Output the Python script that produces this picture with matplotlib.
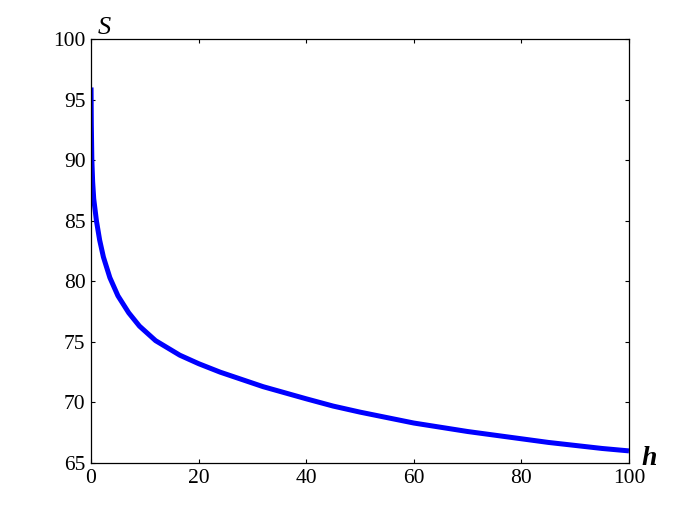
import numpy as np
import matplotlib
matplotlib.use("Agg")
import matplotlib.pyplot as plt

# values
h = [0, 0.05, 0.15, 0.3, 0.5, 1.0, 1.6, 2.3, 3.5, 5, 7, 9, 12, 16.5, 20, 24,
     28, 32, 36, 40, 45, 50, 55, 60, 65, 70, 75, 80, 85, 90, 95, 100]
S = [96.0, 93.0, 90.0, 88.2, 86.8, 85.0, 83.4, 82.0, 80.3, 78.8, 77.4, 76.3, 75.1,
     73.9, 73.2, 72.5, 71.9, 71.3, 70.8, 70.3, 69.7, 69.2, 68.75, 68.3, 67.95,
     67.6, 67.3, 67.0, 66.7, 66.45, 66.2, 66.0]

xticks = [0, 20, 40, 60, 80, 100]
yticks = [65, 70, 75, 80, 85, 90, 95, 100]

plt.rcParams['font.family'] = ['Liberation Serif', 'DejaVu Serif']

fig = plt.figure(figsize=(6.95, 5.2), dpi=100)
ax = fig.add_axes([0.131, 0.1096, 0.774, 0.8154])

ax.plot(h, S, color='#0000ff', linewidth=3.6, solid_capstyle='butt',
        solid_joinstyle='round')

ax.set_xlim(0, 100)
ax.set_ylim(65, 100)
ax.set_xticks(xticks)
ax.set_yticks(yticks)
ax.tick_params(direction='in', length=3, width=0.8, top=True, right=True,
               labelsize=15.5, colors='black')
ax.tick_params(axis='x', pad=4)
ax.tick_params(axis='y', pad=4)
for sp in ax.spines.values():
    sp.set_linewidth(0.9)

fig.text(0.140, 0.935, 'S', fontsize=19, style='italic')
fig.text(0.923, 0.106, 'h', fontsize=20, style='italic', fontweight='bold')

fig.savefig('out.png', dpi=100)
